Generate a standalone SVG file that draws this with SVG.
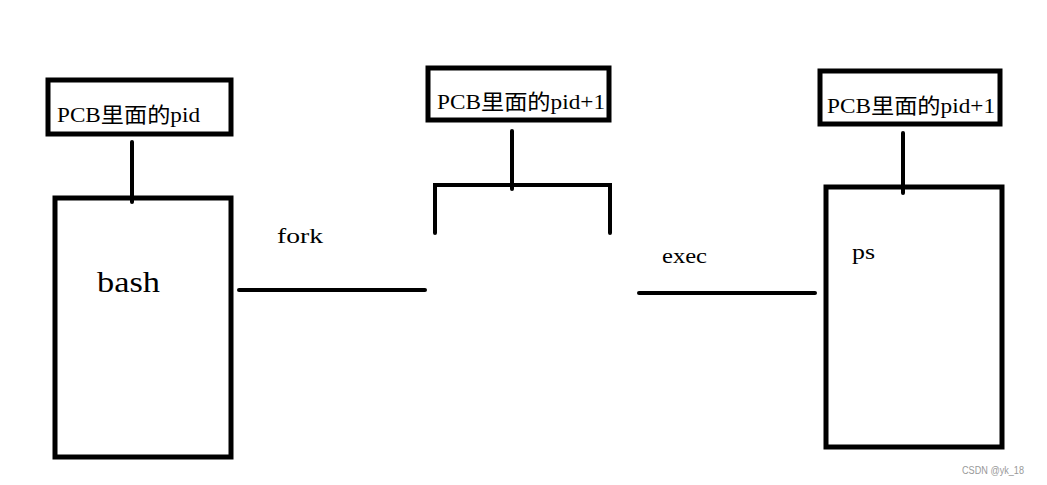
<svg xmlns="http://www.w3.org/2000/svg" width="1047" height="485" viewBox="0 0 1047 485">
<style>
.box{fill:none;stroke:#000;stroke-width:5}
.ln{fill:none;stroke:#000;stroke-width:4;stroke-linecap:round}
.lbl{font-family:"Liberation Serif","Noto Sans CJK SC",serif;fill:#000}
.pcb{font-size:21px}
.op{font-size:21px}
.wm{font-family:"Liberation Sans",sans-serif;font-size:10px;fill:#999}
</style>
<rect width="1047" height="485" fill="#fff"/>
<g id="pcb1">
<rect class="box" x="48" y="80" width="183" height="54"/>
<text class="lbl pcb" x="57" y="122" textLength="143" lengthAdjust="spacingAndGlyphs">PCB里面的pid</text>
</g>
<g id="bash">
<rect class="box" x="55" y="198" width="176" height="259"/>
<text class="lbl" x="97" y="292" font-size="30" textLength="63" lengthAdjust="spacingAndGlyphs">bash</text>
</g>
<g id="pcb2">
<rect class="box" x="428" y="68" width="181" height="52"/>
<text class="lbl pcb" x="437" y="109" textLength="168" lengthAdjust="spacingAndGlyphs">PCB里面的pid+1</text>
</g>
<g id="child">
<path class="ln" d="M435,233 V185 H610 V233" stroke-linecap="butt" stroke-width="5"/>
</g>
<g id="pcb3">
<rect class="box" x="820" y="71" width="180" height="53"/>
<text class="lbl pcb" x="827" y="113" textLength="168" lengthAdjust="spacingAndGlyphs">PCB里面的pid+1</text>
</g>
<g id="ps">
<rect class="box" x="826" y="187" width="176" height="260"/>
<text class="lbl op" x="852" y="259" textLength="23" lengthAdjust="spacingAndGlyphs">ps</text>
</g>
<g id="connectors">
<line class="ln" x1="132" y1="142" x2="132" y2="202"/>
<line class="ln" x1="512" y1="131" x2="512" y2="189"/>
<line class="ln" x1="903" y1="133" x2="903" y2="193"/>
<line class="ln" x1="239" y1="290" x2="425" y2="290"/>
<line class="ln" x1="639" y1="293" x2="815" y2="293"/>
<text class="lbl op" x="277" y="243" textLength="46" lengthAdjust="spacingAndGlyphs">fork</text>
<text class="lbl op" x="662" y="263" textLength="45" lengthAdjust="spacingAndGlyphs">exec</text>
</g>
<text class="wm" x="962" y="474" textLength="62" lengthAdjust="spacingAndGlyphs">CSDN @yk_18</text>
</svg>
